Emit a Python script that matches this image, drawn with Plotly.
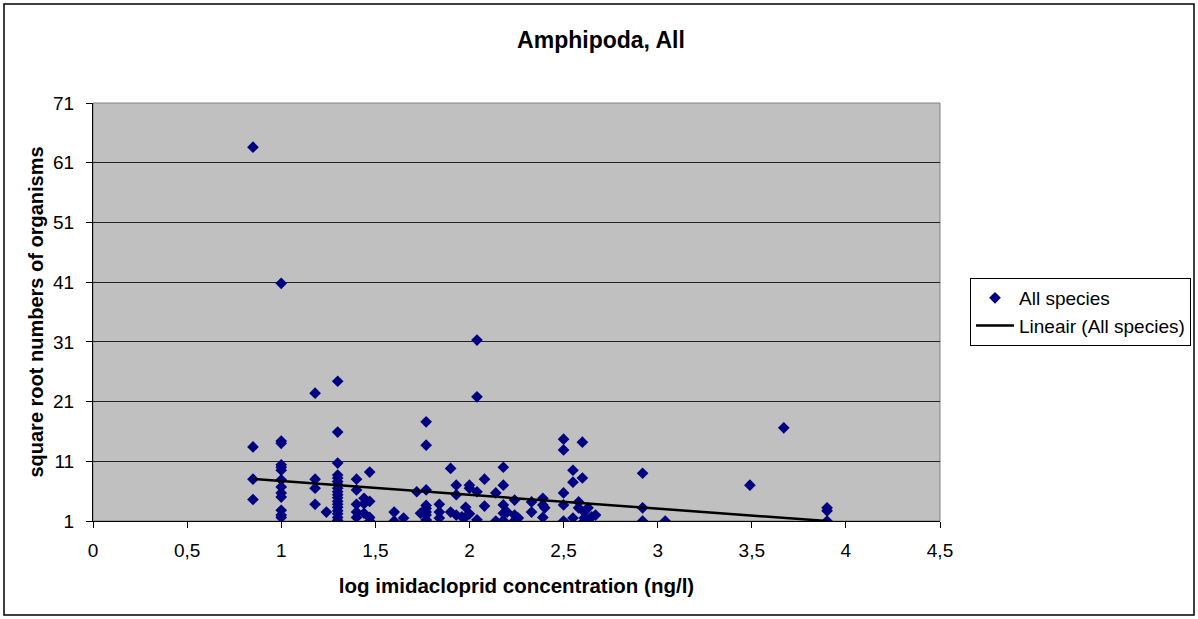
import plotly.graph_objects as go

# ---- data ----
col_x = [0.85, 1.0, 1.18, 1.24, 1.3, 1.4, 1.44, 1.47, 1.6, 1.65, 1.72, 1.74, 1.77,
         1.84, 1.9, 1.93, 1.96, 1.98, 2.0, 2.04, 2.08, 2.14, 2.18, 2.2, 2.24, 2.26,
         2.33, 2.39, 2.4, 2.5, 2.55, 2.6, 2.58, 2.61, 2.63, 2.65, 2.67, 2.92, 3.04,
         3.49, 3.67, 3.9]
col_y = [
    [63.6, 13.4, 8.0, 4.6],
    [40.8, 14.4, 14.0, 10.4, 10.0, 9.5, 7.9, 6.7, 5.7, 5.0, 2.8, 2.0, 1.6],
    [22.4, 8.0, 6.5, 3.8],
    [2.5],
    [24.4, 15.9, 10.7, 8.7, 8.2, 7.6, 7.1, 6.5, 5.9, 5.4, 4.9, 4.3, 3.8, 3.3, 2.7, 2.2, 1.6, 1.1],
    [8.0, 6.2, 3.8, 2.5, 1.6],
    [4.8, 3.9, 2.3],
    [9.2, 4.3, 1.6, 1.0],
    [2.5, 1.0],
    [1.5],
    [5.9],
    [2.3],
    [17.6, 13.7, 6.2, 3.6, 3.1, 2.5, 2.0, 1.2, 1.0],
    [3.8, 2.5, 1.5],
    [9.8, 2.5],
    [7.0, 5.4, 2.0],
    [1.7],
    [3.3, 1.7],
    [7.0, 6.5, 2.2],
    [31.3, 21.8, 5.9, 1.2],
    [8.0, 3.5],
    [5.7, 1.0],
    [10.0, 7.0, 3.7, 2.3, 1.1],
    [2.5],
    [4.5, 2.0, 1.1],
    [1.5],
    [4.2, 2.5],
    [4.8, 3.7, 1.6],
    [3.2],
    [14.7, 12.9, 5.7, 3.7, 1.0],
    [9.5, 7.5, 1.5],
    [14.2, 8.2],
    [4.2, 3.2],
    [2.5, 1.5, 1.0],
    [3.2, 1.2],
    [1.7],
    [2.0],
    [9.0, 3.2, 1.0],
    [1.0],
    [7.0],
    [16.6],
    [3.2, 2.7, 1.0],
]
trend_x = [0.85, 3.9]
trend_y = [8.03, 1.0]

x_tick_vals = [0, 0.5, 1, 1.5, 2, 2.5, 3, 3.5, 4, 4.5]
x_tick_text = ["0", "0,5", "1", "1,5", "2", "2,5", "3", "3,5", "4", "4,5"]
y_tick_vals = [1, 11, 21, 31, 41, 51, 61, 71]

xs, ys = [], []
for cx, vals in zip(col_x, col_y):
    for v in vals:
        xs.append(cx)
        ys.append(v)

FONT = "Arial, Liberation Sans, sans-serif"

fig = go.Figure()
fig.add_trace(go.Scatter(
    x=xs, y=ys, mode="markers", name="All species",
    marker=dict(symbol="diamond", size=9, color="#000080"),
))
fig.add_trace(go.Scatter(
    x=trend_x, y=trend_y, mode="lines", name="Lineair (All species)",
    line=dict(color="black", width=2.5),
))

fig.update_layout(
    width=1198, height=619,
    margin=dict(l=93, r=258, t=103, b=98, autoexpand=False),
    paper_bgcolor="white", plot_bgcolor="#C0C0C0",
    font=dict(family=FONT, size=19, color="black"),
    title=dict(text="<b>Amphipoda, All</b>", x=601 / 1198, xref="container",
               xanchor="center",
               y=1 - 40 / 619, yref="container", yanchor="middle",
               font=dict(size=23, family=FONT)),
    showlegend=True,
    legend=dict(x=(970 - 93) / 847, y=(521 - 312) / 418, xanchor="left", yanchor="middle",
                bgcolor="white", bordercolor="black", borderwidth=1, itemwidth=38,
                font=dict(size=19, family=FONT), tracegroupgap=0),
    xaxis=dict(range=[0, 4.5], tickvals=x_tick_vals, ticktext=x_tick_text,
               showgrid=False, zeroline=False, showline=True, linecolor="black",
               linewidth=1, ticks="outside", ticklen=6, tickcolor="black",
               ticklabelstandoff=6,
               title=dict(text="<b>log imidacloprid concentration (ng/l)</b>",
                          font=dict(size=20.5), standoff=18)),
    yaxis=dict(range=[1, 71], tickvals=y_tick_vals,
               showgrid=True, gridcolor="#222222", gridwidth=1, zeroline=False,
               showline=True, linecolor="black", linewidth=1,
               ticks="outside", ticklen=6, tickcolor="black",
               ticklabelstandoff=8,
               title=dict(text="<b>square root numbers of organisms</b>",
                          font=dict(size=20), standoff=4)),
)

# plot-area border (grey) and outer chart border (black)
fig.add_shape(type="rect", xref="paper", yref="paper", x0=0, x1=1, y0=0, y1=1,
              line=dict(color="#808080", width=1), layer="below")
fig.add_shape(type="rect", xref="paper", yref="paper",
              x0=(4 - 93) / 847, x1=(1194 - 93) / 847,
              y0=(521 - 615) / 418, y1=(521 - 4) / 418,
              line=dict(color="black", width=1.5))

fig.write_html("out.html", config={"displayModeBar": False},
               post_script="document.body.style.margin='0';document.body.style.overflow='hidden';")
